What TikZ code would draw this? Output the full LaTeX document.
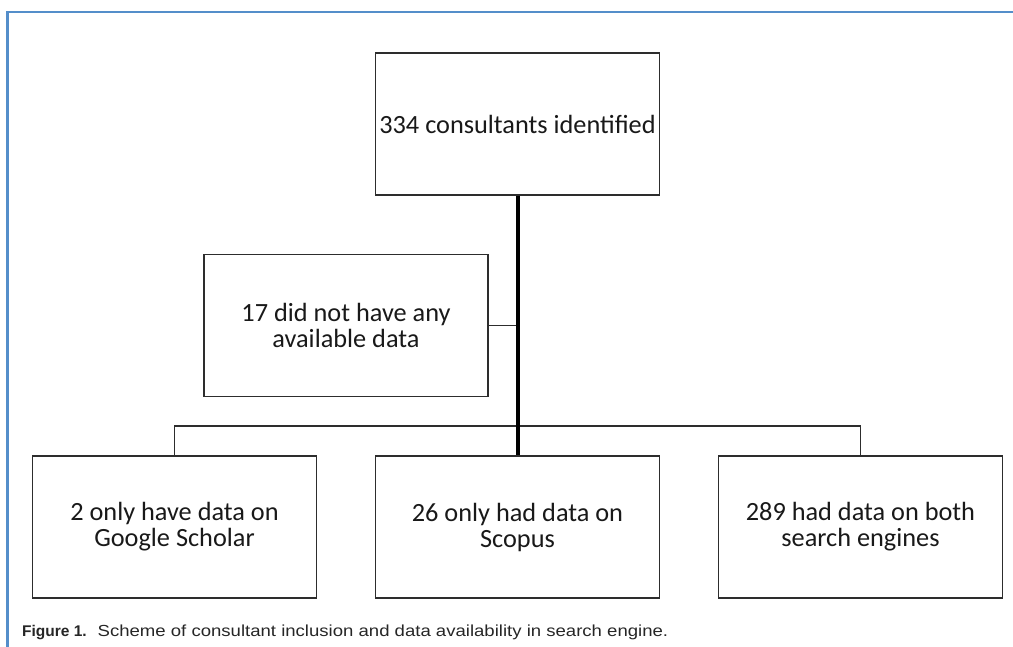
\documentclass[tikz,border=0pt]{standalone}
\usepackage{fontspec}
\setmainfont{Carlito}
\newfontfamily\capfont{Liberation Sans}
\usepackage{tikz}
\usetikzlibrary{shapes, arrows, arrows.meta}
\definecolor{framebl}{RGB}{84,142,202}
\definecolor{boxline}{RGB}{45,45,45}
\tikzstyle{stage} = [rectangle, draw=boxline, line width=1.5pt, fill=white,
    minimum width=284pt, minimum height=142pt, align=center,
    text=black!90, font=\fontsize{26.3pt}{26pt}\selectfont, inner sep=0pt]
\tikzstyle{line} = [draw=boxline, line width=1.5pt]
\tikzstyle{trunk} = [draw=black, line width=4pt]

\begin{document}
\begin{tikzpicture}[x=1pt, y=-1pt, node distance = 343pt, auto]
    \useasboundingbox (0,0) rectangle (1013,647);
    % Frame
    \draw[framebl, line width=2.5pt] (7.5,647) -- (7.5,12) -- (1013,12);
    % Nodes
    \node [stage] (found) at (517.5,124) {334 consultants identified};
    \node [stage, below of=found, node distance=403pt] (scopus) {26 only had data on\\Scopus};
    \node [stage, left of=scopus] (scholar) {2 only have data on\\Google Scholar};
    \node [stage, right of=scopus] (both) {289 had data on both\\search engines};
    \node [stage] (nodata) at (346,325.5) {17 did not have any\\available data};
    \coordinate (split) at (517.5,426);
    % Edges
    \path [line] (scholar.north) |- (split) -| (both.north);
    \path [line] (nodata.east) -- (nodata.east -| found.south);
    \path [trunk] (found) -- (scopus);
    % Caption
    \node [anchor=west, inner sep=0pt, font=\capfont\fontsize{15.5pt}{16pt}\selectfont,
        text=black!85] (caption) at (22,632)
        {\textbf{Figure 1.}\hspace{0.7em}\scalebox{1.16}[1]{\fontsize{16pt}{16pt}\selectfont
        Scheme of consultant inclusion and data availability in search engine.}};
\end{tikzpicture}
\end{document}
